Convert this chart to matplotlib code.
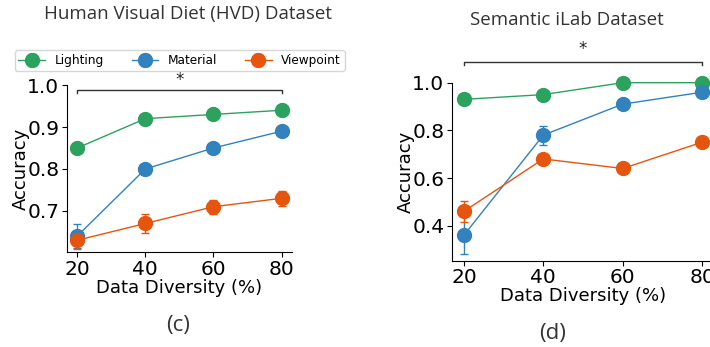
import matplotlib
matplotlib.use('Agg')
import matplotlib.pyplot as plt

# data
diversity = [20, 40, 60, 80]
series_names = ['Lighting', 'Material', 'Viewpoint']
colors = ['#2ca25f', '#3182bd', '#e6550d']

hvd_lighting = [0.85, 0.92, 0.93, 0.94]
hvd_material = [0.64, 0.80, 0.85, 0.89]
hvd_viewpoint = [0.63, 0.67, 0.71, 0.73]
hvd_lighting_err = [0.004, 0.004, 0.004, 0.004]
hvd_material_err = [0.028, 0.004, 0.004, 0.004]
hvd_viewpoint_err = [0.02, 0.022, 0.017, 0.018]

ilab_lighting = [0.93, 0.95, 1.0, 1.0]
ilab_material = [0.36, 0.78, 0.91, 0.96]
ilab_viewpoint = [0.46, 0.68, 0.64, 0.75]
ilab_lighting_err = [0.005, 0.005, 0.005, 0.005]
ilab_material_err = [0.08, 0.04, 0.01, 0.01]
ilab_viewpoint_err = [0.045, 0.01, 0.01, 0.01]

hvd_yticks = [0.7, 0.8, 0.9, 1.0]
ilab_yticks = [0.4, 0.6, 0.8, 1.0]

TITLE_FONT = 'Open Sans'
TXT = '#333333'

fig = plt.figure(figsize=(7.1, 3.47), dpi=100)
ax1 = fig.add_axes([0.0944, 0.2738, 0.3166, 0.481])
ax2 = fig.add_axes([0.6366, 0.2487, 0.369, 0.513])


def draw_panel(ax, vals, errs, ylim, yticks, bracket_y, star_y, tick_len):
    handles = []
    for v, e, c, name in zip(vals, errs, colors, series_names):
        h = ax.errorbar(diversity, v, yerr=e, color=c, marker='o', markersize=10,
                        linewidth=1, capsize=3, elinewidth=1, label=name,
                        clip_on=False, zorder=3)
        handles.append(h)
    ax.set_xlim(17, 83)
    ax.set_ylim(*ylim)
    ax.set_xticks(diversity)
    ax.set_yticks(yticks)
    ax.tick_params(labelsize=14.5, pad=2)
    ax.set_xlabel('Data Diversity (%)', fontsize=13, labelpad=0)
    ax.set_ylabel('Accuracy', fontsize=13, labelpad=-2)
    ax.spines['top'].set_visible(False)
    ax.spines['right'].set_visible(False)
    # significance bracket
    ax.plot([20, 20, 80, 80], [bracket_y - tick_len, bracket_y, bracket_y, bracket_y - tick_len],
            color='#333333', lw=1, clip_on=False)
    ax.text(50, star_y, '*', ha='center', va='center', fontsize=12, color='#222222')
    return handles


h = draw_panel(ax1, [hvd_lighting, hvd_material, hvd_viewpoint],
               [hvd_lighting_err, hvd_material_err, hvd_viewpoint_err],
               (0.602, 1.0), hvd_yticks, 0.988, 1.012, 0.007)
draw_panel(ax2, [ilab_lighting, ilab_material, ilab_viewpoint],
           [ilab_lighting_err, ilab_material_err, ilab_viewpoint_err],
           (0.253, 1.0), ilab_yticks, 1.088, 1.14, 0.012)

fig.legend(handles=h, labels=series_names, loc='center', bbox_to_anchor=(0.253, 0.826),
           ncol=3, fontsize=8.7, frameon=True, handlelength=2.2, columnspacing=2.3,
           borderpad=0.3)

fig.text(187.5 / 710, 1 - 14 / 347, 'Human Visual Diet (HVD) Dataset', ha='center', va='center',
         fontsize=13.5, family=TITLE_FONT, color=TXT)
fig.text(567 / 710, 1 - 20 / 347, 'Semantic iLab Dataset', ha='center', va='center',
         fontsize=13.5, family=TITLE_FONT, color=TXT)
fig.text(178 / 710, 1 - 325 / 347, '(c)', ha='center', va='center',
         fontsize=16, family=TITLE_FONT, color=TXT)
fig.text(553 / 710, 1 - 333 / 347, '(d)', ha='center', va='center',
         fontsize=16, family=TITLE_FONT, color=TXT)

fig.savefig('out.png', dpi=100)
